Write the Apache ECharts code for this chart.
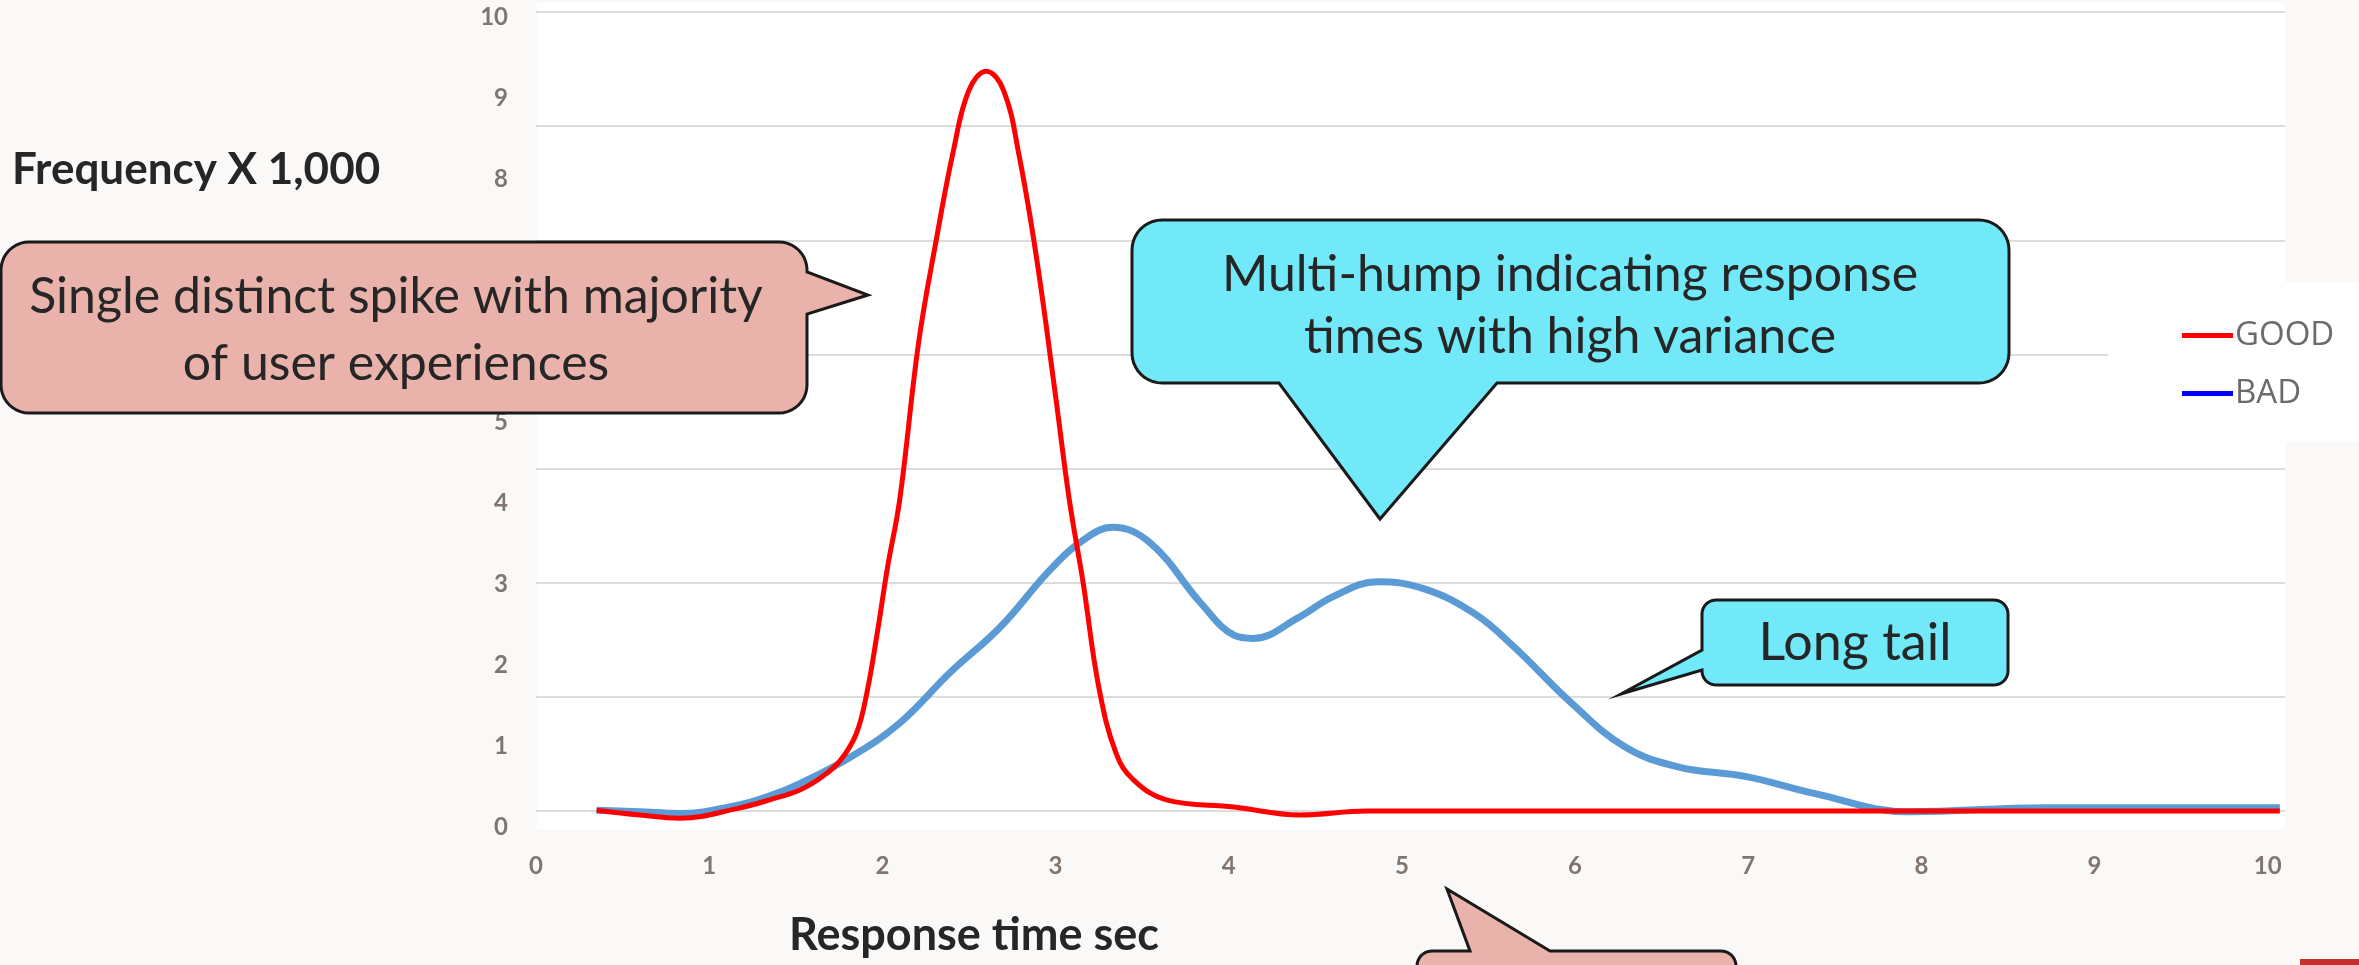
<!DOCTYPE html>
<html>
<head>
<meta charset="utf-8">
<script src="https://cdn.jsdelivr.net/npm/echarts/dist/echarts.min.js"></script>
<style>
html,body{margin:0;padding:0;background:#faf9f7;}
#c{width:2359px;height:965px;}
</style>
</head>
<body>
<div id="c"></div>
<script>
// ---- data ----
const seriesNames = ['GOOD', 'BAD'];
const goodX = [0.35, 0.6, 0.83, 1.16, 1.35, 1.53, 1.66, 1.76, 1.85, 1.91, 1.97, 2.03, 2.10, 2.21, 2.31, 2.41, 2.50, 2.60, 2.70, 2.79, 2.89, 3.0, 3.08, 3.16, 3.25, 3.35, 3.45, 3.64, 4.03, 4.41, 4.8, 5.5, 6.5, 7.5, 8.5, 9.5, 10.07];
const goodY = [0.01, -0.05, -0.09, 0.03, 0.14, 0.27, 0.44, 0.64, 0.97, 1.47, 2.22, 3.05, 3.89, 5.87, 7.13, 8.26, 9.02, 9.26, 9.02, 8.2, 6.93, 5.2, 3.89, 2.85, 1.55, 0.72, 0.39, 0.14, 0.05, -0.05, 0, 0, 0, 0, 0, 0, 0];
const badX = [0.35, 0.6, 0.83, 1.16, 1.35, 1.53, 1.82, 2.10, 2.39, 2.68, 2.97, 3.16, 3.33, 3.55, 3.84, 4.03, 4.14, 4.41, 4.6, 4.86, 5.13, 5.42, 5.65, 5.98, 6.29, 6.60, 6.99, 7.38, 7.93, 8.71, 9.5, 10.07];
const badY = [0.01, -0.01, -0.03, 0.07, 0.19, 0.35, 0.68, 1.10, 1.73, 2.30, 3.02, 3.39, 3.55, 3.35, 2.60, 2.20, 2.16, 2.43, 2.68, 2.87, 2.78, 2.47, 2.05, 1.35, 0.8, 0.55, 0.43, 0.22, -0.01, 0.04, 0.04, 0.04];
const xTickStep = 1;
const yLabelStep = 1;
const yGridDivisions = 7;
const xAxisTitle = 'Response time sec';
const yAxisTitle = 'Frequency X 1,000';
const calloutTexts = [
  'Single distinct spike with majority\nof user experiences',
  'Multi-hump indicating response\ntimes with high variance',
  'Long tail'
];

// ---- helpers for callout shapes ----
function arcPts(pts, cx, cy, r, a0, a1) {
  const n = 10;
  for (let i = 0; i <= n; i++) {
    const a = (a0 + (a1 - a0) * i / n) * Math.PI / 180;
    pts.push([cx + r * Math.cos(a), cy + r * Math.sin(a)]);
  }
}
function callout(x0, y0, x1, y1, r, side, pa, pb, tip) {
  const p = [];
  arcPts(p, x0 + r, y0 + r, r, 180, 270);
  if (side === 'top') { p.push([pa, y0], tip, [pb, y0]); }
  arcPts(p, x1 - r, y0 + r, r, 270, 360);
  if (side === 'right') { p.push([x1, pa], tip, [x1, pb]); }
  arcPts(p, x1 - r, y1 - r, r, 0, 90);
  if (side === 'bottom') { p.push([pb, y1], tip, [pa, y1]); }
  arcPts(p, x0 + r, y1 - r, r, 90, 180);
  if (side === 'left') { p.push([x0, pb], tip, [x0, pa]); }
  return p;
}
const PINK = '#e9b3ac', CYAN = '#71e9f8', EDGE = '#1a1a1a', INK = '#262626';
function textEl(x, y, text, size, weight, align, lh) {
  return {
    type: 'text', x: x, y: y, z: 12,
    style: {
      text: text, fontSize: size, fontWeight: weight, fontFamily: 'Lato',
      fill: INK, textAlign: align, align: align,
      textVerticalAlign: 'middle', verticalAlign: 'middle', lineHeight: lh || size * 1.2
    }
  };
}

const chart = echarts.init(document.getElementById('c'), null, {renderer: 'canvas'});
const labelStyle = {fontSize: 24, fontWeight: 'bold', color: '#80766f', fontFamily: 'Lato'};

const option = {
  animation: false,
  backgroundColor: '#faf9f7',
  grid: [
    {left: 536, right: 74, top: 12, bottom: 154, outerBoundsMode: 'none', containLabel: false},
    {left: 536, right: 74, top: 17, bottom: 138, outerBoundsMode: 'none', containLabel: false}
  ],
  xAxis: [
    {
      type: 'value', gridIndex: 0, min: 0, max: 10.1, interval: xTickStep,
      axisLine: {show: false}, axisTick: {show: false}, splitLine: {show: false},
      axisLabel: Object.assign({margin: 43, showMaxLabel: false,
        formatter: v => (Math.abs(v - Math.round(v)) < 1e-9 ? String(Math.round(v)) : '')}, labelStyle)
    },
    {type: 'value', gridIndex: 1, min: 0, max: 10, show: false}
  ],
  yAxis: [
    {
      type: 'value', gridIndex: 0, min: 0, max: 10, interval: 10 / yGridDivisions,
      axisLabel: {show: false}, axisLine: {show: false}, axisTick: {show: false},
      splitLine: {show: true, lineStyle: {color: '#dcdcdc', width: 2}}
    },
    {
      type: 'value', gridIndex: 1, min: 0, max: 10, interval: yLabelStep,
      axisLine: {show: false}, axisTick: {show: false}, splitLine: {show: false},
      axisLabel: Object.assign({margin: 28}, labelStyle)
    }
  ],
  legend: {
    orient: 'vertical', left: 2182, top: 319, padding: 0,
    itemWidth: 51, itemHeight: 5, itemGap: 25, icon: 'rect', z: 20,
    textStyle: {fontSize: 33, color: '#6b6b6b', fontFamily: 'Open Sans', padding: [0, 0, 0, -3]},
    data: [
      {name: seriesNames[0], itemStyle: {color: '#ff0000'}},
      {name: seriesNames[1], itemStyle: {color: '#0000ff'}}
    ]
  },
  series: [
    {
      name: seriesNames[1], type: 'line', xAxisIndex: 0, yAxisIndex: 0,
      data: badX.map((x, i) => [x, badY[i]]),
      smooth: 0.4, showSymbol: false, clip: false,
      lineStyle: {color: '#5b9bd5', width: 7}, itemStyle: {color: '#5b9bd5'}, z: 2
    },
    {
      name: seriesNames[0], type: 'line', xAxisIndex: 0, yAxisIndex: 0,
      data: goodX.map((x, i) => [x, goodY[i]]),
      smooth: 0.4, showSymbol: false, clip: false,
      lineStyle: {color: '#ff0000', width: 5}, itemStyle: {color: '#ff0000'}, z: 3
    }
  ],
  graphic: [
    // plot background
    {type: 'rect', z: -10, shape: {x: 537, y: 3, width: 1748, height: 826}, style: {fill: '#ffffff'}},
    // legend background
    {type: 'rect', z: 8, shape: {x: 2108, y: 282, width: 251, height: 160}, style: {fill: '#ffffff'}},
    // callouts
    {type: 'polygon', z: 10, shape: {points: callout(1, 242, 807, 413, 28, 'right', 272, 314, [868, 295])},
      style: {fill: PINK, stroke: EDGE, lineWidth: 3}},
    {type: 'polygon', z: 10, shape: {points: callout(1132, 220, 2009, 383, 30, 'bottom', 1279, 1497, [1380, 519])},
      style: {fill: CYAN, stroke: EDGE, lineWidth: 3}},
    {type: 'polygon', z: 10, shape: {points: callout(1702, 600, 2008, 685, 14, 'left', 650, 670, [1621, 694])},
      style: {fill: CYAN, stroke: EDGE, lineWidth: 3}},
    {type: 'polygon', z: 10, shape: {points: callout(1417, 951, 1736, 1010, 15, 'top', 1470, 1550, [1447, 889])},
      style: {fill: PINK, stroke: EDGE, lineWidth: 3}},
    textEl(396, 330, calloutTexts[0], 50, 'normal', 'center', 67),
    textEl(1570, 306, calloutTexts[1], 50, 'normal', 'center', 62),
    textEl(1855, 643, calloutTexts[2], 52, 'normal', 'center'),
    // axis titles
    textEl(12, 170, yAxisTitle, 44, 'bold', 'left'),
    textEl(974, 935, xAxisTitle, 45, 'bold', 'center'),
    // red corner mark
    {type: 'rect', z: 10, shape: {x: 2300, y: 959, width: 59, height: 6}, style: {fill: '#c9302c'}}
  ]
};
chart.setOption(option);
</script>
</body>
</html>
